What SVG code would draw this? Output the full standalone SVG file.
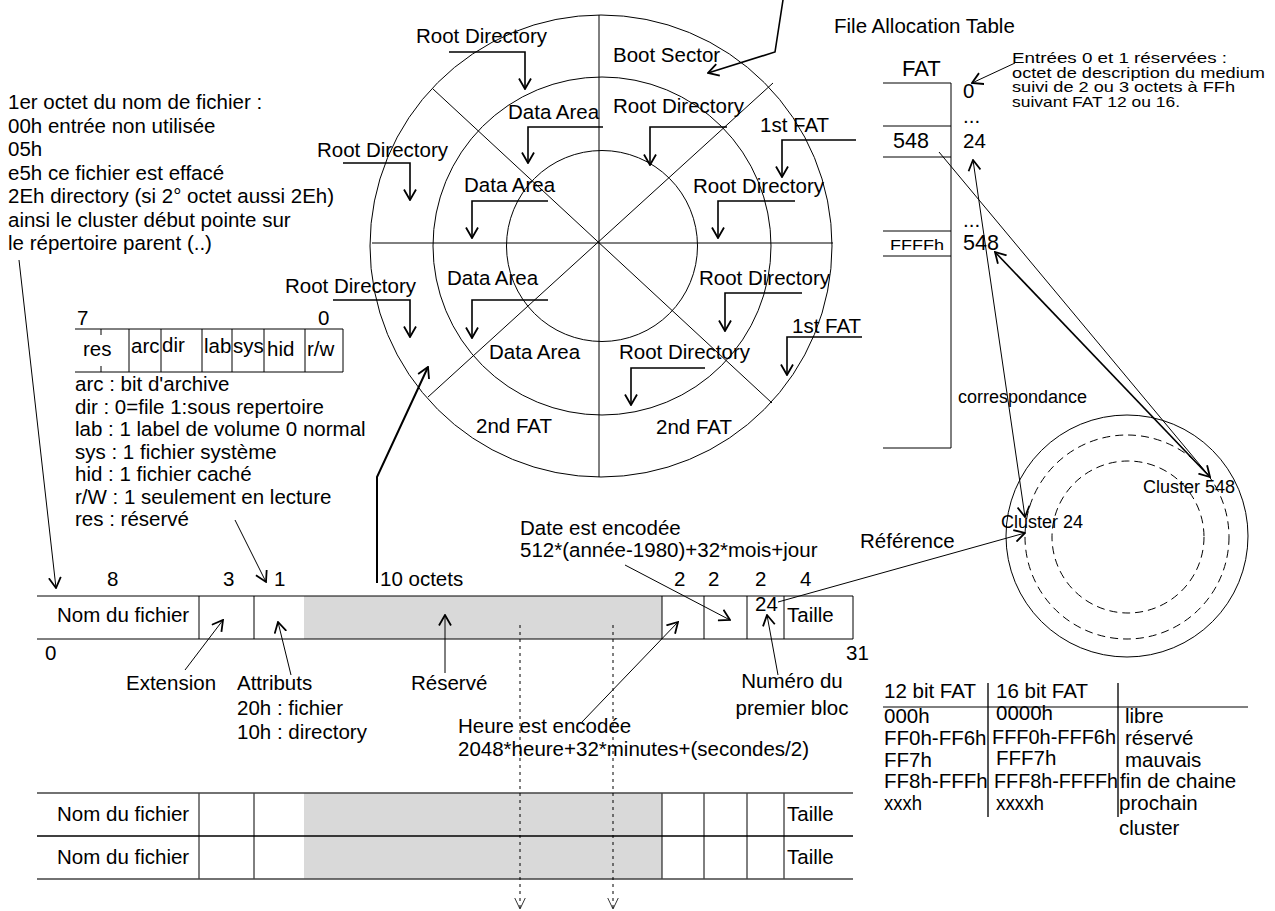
<svg xmlns="http://www.w3.org/2000/svg" width="1275" height="911" viewBox="0 0 1275 911">
<style>
text{font-family:"Liberation Sans",Arial,sans-serif;font-size:20.5px;fill:#000}
.sm{font-size:15px}
.md{font-size:18px}
.ln{stroke:#000;stroke-width:1;fill:none}
.ar{stroke:#000;stroke-width:1.6;fill:none;marker-end:url(#ah)}
.at{stroke:#000;stroke-width:1;fill:none;marker-end:url(#ah)}
.dd{stroke:#000;stroke-width:1;fill:none;marker-start:url(#ah);marker-end:url(#ah)}
.dt{stroke:#000;stroke-width:1;fill:none;stroke-dasharray:3,4;marker-end:url(#av)}
.dash{stroke:#000;stroke-width:1;fill:none;stroke-dasharray:8,5}
.grey{fill:#d9d9d9;stroke:none}
.gl{stroke:#555;stroke-width:2;fill:none}
</style>
<defs>
<marker id="ah" viewBox="0 0 12 14" refX="11" refY="7" markerWidth="12" markerHeight="14" markerUnits="userSpaceOnUse" orient="auto-start-reverse">
<path d="M0.5,1 L11,7 L0.5,13" fill="none" stroke="#000" stroke-width="1.8"/>
</marker>
<marker id="av" viewBox="0 0 12 12" refX="11.5" refY="6" markerWidth="12" markerHeight="12" markerUnits="userSpaceOnUse" orient="auto">
<path d="M0,0.5 L11.5,6 L0,11.5" fill="none" stroke="#000" stroke-width="0.8"/>
</marker>
</defs>
<rect width="1275" height="911" fill="#fff"/>

<g id="disk">
<circle cx="601" cy="246" r="231" class="ln"/>
<circle cx="602" cy="246" r="169" class="ln"/>
<circle cx="602" cy="246" r="95.5" class="ln"/>
<path class="ln" d="M372,243 H833 M599,15 V477 M433,89 L772,403 M773,83 L428,397"/>
<text x="416" y="43">Root Directory</text>
<text x="613" y="62">Boot Sector</text>
<text x="508" y="119">Data Area</text>
<text x="613" y="113">Root Directory</text>
<text x="760" y="132">1st FAT</text>
<text x="317" y="157">Root Directory</text>
<text x="464" y="192">Data Area</text>
<text x="693" y="193">Root Directory</text>
<text x="285" y="293">Root Directory</text>
<text x="447" y="285">Data Area</text>
<text x="699" y="285">Root Directory</text>
<text x="792" y="333">1st FAT</text>
<text x="489" y="359">Data Area</text>
<text x="619" y="359">Root Directory</text>
<text x="476" y="433">2nd FAT</text>
<text x="656" y="434">2nd FAT</text>
</g>

<g id="fat-table">
<text x="834" y="33">File Allocation Table</text>
<text x="902" y="76" style="font-size:22px">FAT</text>
<path class="ln" d="M883,83 H951 M883,126 H951 M883,157 H951 M883,231 H951 M883,256 H951 M951,83 V448 M883,448 H951"/>
<text x="963" y="98">0</text>
<text x="963" y="123">...</text>
<text x="893" y="148" style="font-size:21.5px">548</text>
<text x="963" y="148">24</text>
<text x="963" y="227">...</text>
<text x="890" y="250" class="sm" textLength="54" lengthAdjust="spacingAndGlyphs">FFFFh</text>
<text x="963" y="250" style="font-size:21.5px">548</text>
<text x="1012" y="63" class="sm" textLength="215" lengthAdjust="spacingAndGlyphs">Entrées 0 et 1 réservées :</text>
<text x="1012" y="77.5" class="sm" textLength="253" lengthAdjust="spacingAndGlyphs">octet de description du medium</text>
<text x="1012" y="92" class="sm" textLength="223" lengthAdjust="spacingAndGlyphs">suivi de 2 ou 3 octets à FFh</text>
<text x="1012" y="106.5" class="sm" textLength="168" lengthAdjust="spacingAndGlyphs">suivant FAT 12 ou 16.</text>
<text x="958" y="403" class="md">correspondance</text>
</g>

<g id="first-byte-note">
<text x="8" y="109">1er octet du nom de fichier :</text>
<text x="8" y="132.5">00h entrée non utilisée</text>
<text x="8" y="156">05h</text>
<text x="8" y="179.5">e5h ce fichier est effacé</text>
<text x="8" y="203">2Eh directory (si 2° octet aussi 2Eh)</text>
<text x="8" y="226.5">ainsi le cluster début pointe sur</text>
<text x="8" y="250">le répertoire parent (..)</text>
</g>

<g id="attribute-byte">
<text x="77" y="325">7</text>
<text x="318" y="325">0</text>
<path class="ln" d="M75,329 H343 M75,372 H343 M343,329 V372 M129,329 V372 M161,329 V372 M202,329 V372 M232,329 V372 M264,329 V372 M305,329 V372 M101,329 V335 M101,366 V372"/>
<text x="83" y="356">res</text>
<text x="131" y="353">arc</text>
<text x="162" y="352">dir</text>
<text x="204" y="353">lab</text>
<text x="233" y="353">sys</text>
<text x="267" y="356">hid</text>
<text x="307" y="356">r/w</text>
<text x="75" y="391">arc : bit d'archive</text>
<text x="75" y="413.5">dir : 0=file 1:sous repertoire</text>
<text x="75" y="436">lab : 1 label de volume 0 normal</text>
<text x="75" y="458.5">sys : 1 fichier système</text>
<text x="75" y="481">hid : 1 fichier caché</text>
<text x="75" y="503.5">r/W : 1 seulement en lecture</text>
<text x="75" y="526">res : réservé</text>
</g>

<g id="dir-entry">
<text x="107" y="586">8</text>
<text x="223" y="586">3</text>
<text x="274" y="586">1</text>
<text x="380" y="586">10 octets</text>
<text x="674" y="586">2</text>
<text x="708" y="586">2</text>
<text x="755" y="586">2</text>
<text x="800" y="586">4</text>
<rect class="grey" x="304" y="596" width="358" height="43"/>
<path class="ln" d="M37,596 H853 M37,639 H853 M199,596 V639 M254,596 V639 M662,596 V639 M704,596 V639 M747,596 V639 M784,596 V639 M853,596 V639"/>
<text x="57" y="622">Nom du fichier</text>
<text x="755" y="611">24</text>
<text x="787" y="622">Taille</text>
<text x="45" y="660">0</text>
<text x="846" y="660">31</text>
<text x="126" y="690">Extension</text>
<text x="237" y="690">Attributs</text>
<text x="237" y="715">20h : fichier</text>
<text x="237" y="739">10h : directory</text>
<text x="411" y="690">Réservé</text>
<text x="792" y="688" text-anchor="middle">Numéro du</text>
<text x="792" y="715" text-anchor="middle">premier bloc</text>
<text x="520" y="535">Date est encodée</text>
<text x="520" y="557">512*(année-1980)+32*mois+jour</text>
<text x="458" y="733">Heure est encodée</text>
<text x="458" y="756">2048*heure+32*minutes+(secondes/2)</text>
<text x="860" y="548">Référence</text>
</g>

<g id="dir-entry-2">
<rect class="grey" x="304" y="793" width="358" height="86"/>
<path class="ln" d="M199,793 V879 M254,793 V879 M662,793 V879 M704,793 V879 M747,793 V879 M784,793 V879"/>
<path d="M37,836 H853" stroke="#000" stroke-width="1.5" fill="none"/>
<path d="M37,793 H853 M37,879 H853" stroke="#444" stroke-width="1.5" fill="none"/>
<text x="57" y="821">Nom du fichier</text>
<text x="787" y="821">Taille</text>
<text x="57" y="864">Nom du fichier</text>
<text x="787" y="864">Taille</text>
</g>

<g id="disk-clusters">
<circle cx="1127" cy="536" r="121" class="ln"/>
<circle cx="1127" cy="537" r="102" class="dash"/>
<circle cx="1128" cy="537" r="76" class="dash"/>
<text x="1143" y="493" class="md">Cluster 548</text>
<text x="1001" y="528" class="md">Cluster 24</text>
</g>

<g id="fat-codes">
<path class="gl" d="M988,683 V817 M1118,683 V817"/>
<path class="ln" d="M883,707 H1248"/>
<text x="884" y="698">12 bit FAT</text>
<text x="996" y="698">16 bit FAT</text>
<text x="884" y="723">000h</text>
<text x="884" y="745">FF0h-FF6h</text>
<text x="884" y="767">FF7h</text>
<text x="884" y="788">FF8h-FFFh</text>
<text x="884" y="810" textLength="38" lengthAdjust="spacingAndGlyphs">xxxh</text>
<text x="996" y="720">0000h</text>
<text x="992" y="744" textLength="124" lengthAdjust="spacingAndGlyphs">FFF0h-FFF6h</text>
<text x="996" y="765">FFF7h</text>
<text x="994" y="788" textLength="124" lengthAdjust="spacingAndGlyphs">FFF8h-FFFFh</text>
<text x="996" y="810" textLength="48" lengthAdjust="spacingAndGlyphs">xxxxh</text>
<text x="1125" y="723">libre</text>
<text x="1125" y="745">réservé</text>
<text x="1125" y="767">mauvais</text>
<text x="1120" y="788">fin de chaine</text>
<text x="1119" y="810">prochain</text>
<text x="1119" y="835">cluster</text>
</g>

<g id="connectors">
<path class="ar" d="M449,52 H525 V89"/>
<path class="ar" d="M603,127 H528 V163"/>
<path class="ar" d="M727,127 H650 V165"/>
<path class="ar" d="M856,140 H782 V177"/>
<path class="ar" d="M343,163 H410 V200"/>
<path class="ar" d="M548,201 H472 V238"/>
<path class="ar" d="M795,201 H718 V238"/>
<path class="ar" d="M333,300 H410 V337"/>
<path class="ar" d="M548,300 H472 V338"/>
<path class="ar" d="M802,293 H725 V331"/>
<path class="ar" d="M862,337 H787 V375"/>
<path class="ar" d="M705,368 H631 V405"/>
<path class="ar" d="M783,0 L775,52 L708,73"/>
<path class="ar" style="stroke-width:2" d="M377,583 V477 L428,367"/>
<path class="at" d="M19,260 L56,588"/>
<path class="at" d="M235,520 L266,582"/>
<path class="at" d="M185,670 L223,620"/>
<path class="at" d="M291,675 L278,622"/>
<path class="at" d="M445,673 V615"/>
<path class="at" d="M625,565 L730,620"/>
<path class="at" d="M582,722 L678,622"/>
<path class="at" d="M778,675 L767,615"/>
<path class="at" d="M778,602 L1025,533"/>
<path class="at" d="M1015,63 L972,83"/>
<path class="ln" d="M939,152 L1210,477"/>
<path class="dd" style="stroke-width:1.6" d="M995,252 L1210,477"/>
<path class="dd" d="M973,160 L1025,517"/>
<path class="dt" d="M520,625 V909"/>
<path class="dt" d="M613,625 V909"/>
</g>
</svg>
